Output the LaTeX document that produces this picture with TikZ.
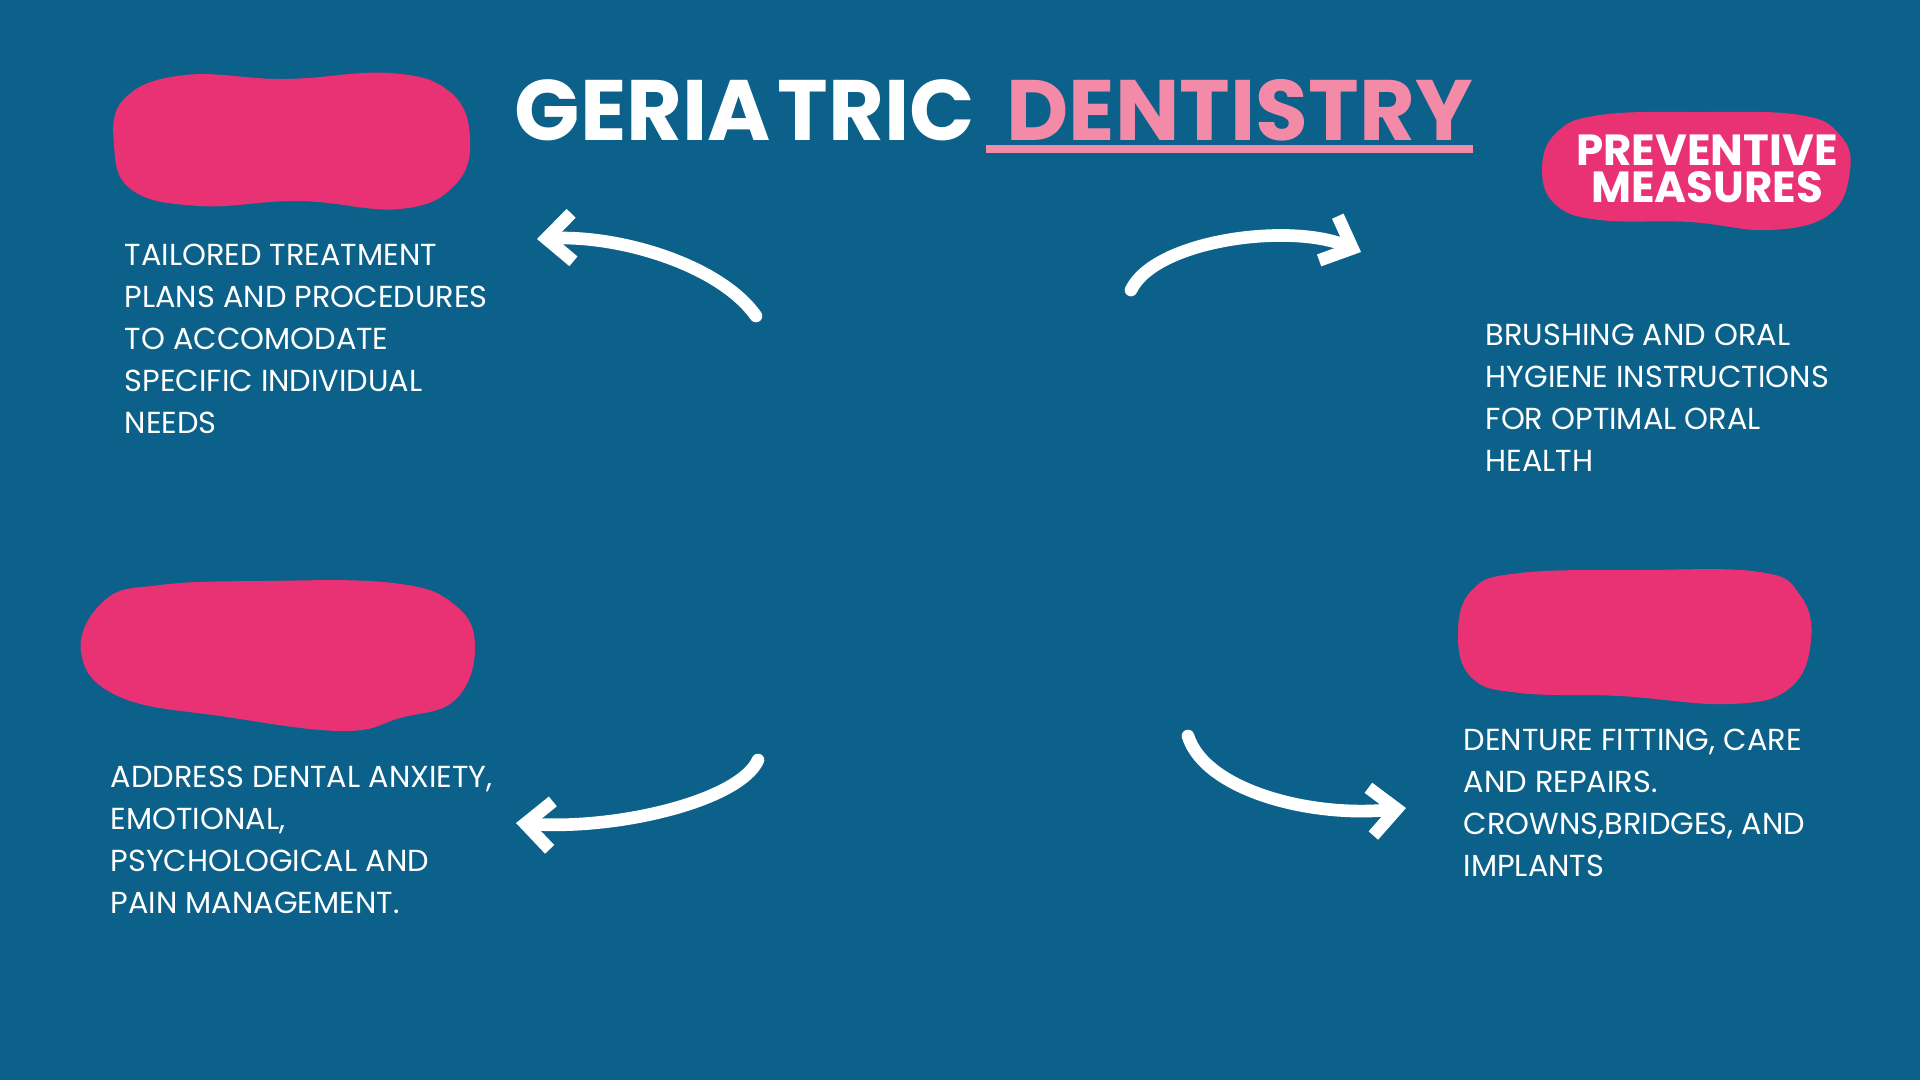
\documentclass[tikz,border=0pt]{standalone}
\usepackage{fontspec}
\setmainfont{Poppins}
\usetikzlibrary{positioning,arrows.meta}
\definecolor{sfondo}{HTML}{0B6189}
\definecolor{macchia}{HTML}{E83273}
\definecolor{rosa}{HTML}{F38BA8}
\tikzset{
  testo/.style={text=white, anchor=base west, align=left, inner sep=0pt,
    font=\fontsize{8.65}{11.9}\selectfont},
  titolo/.style={anchor=base west, inner sep=0pt,
    font=\fontsize{24.4}{30}\selectfont\bfseries},
  freccia/.style={draw=white, line width=3.6pt, line cap=round,
    -{Straight Barb[length=2.6mm,width=4.8mm]}}
}
\begin{document}
\begin{tikzpicture}[x=0.1mm, y=-0.1mm]
  % Sfondo
  \fill[sfondo] (0,0) rectangle (1920,1080);
  \useasboundingbox (0,0) rectangle (1920,1080);

  % Macchie
  \fill[macchia] plot[smooth cycle, tension=0.7] coordinates {(125,98) (185,75) (285,79) (390,73) (450,92) (470,138) (455,185) (400,209) (300,201) (200,206) (132,190) (114,145)};
  \fill[macchia] plot[smooth cycle, tension=0.7] coordinates {(105,600) (160,585) (260,581) (393,583) (455,605) (475,648) (455,700) (400,718) (343,731) (227,717) (120,697) (81,652)};
  \fill[macchia] plot[smooth cycle, tension=0.7] coordinates {(1472,590) (1520,573) (1640,570) (1760,572) (1800,595) (1811,640) (1790,688) (1730,704) (1620,696) (1520,693) (1472,678) (1458,635)};
  \fill[macchia] plot[smooth cycle, tension=0.7] coordinates {(1556,133) (1600,115) (1700,112) (1800,115) (1840,135) (1850,170) (1830,214) (1770,230) (1690,222) (1600,220) (1556,205) (1542,170)};

  % Nodi
  \node[titolo, text=white] (0) at (514,140) {GERIA\kern2pt TRIC};
  \node[titolo, text=rosa, base right=3mm of 0] (1) {DENTISTRY};
  \node[inner sep=0pt, anchor=base, align=center, text=white,
    font=\fontsize{12.4}{10.5}\selectfont\bfseries] (2) at (1707,202) {PREVENTIVE\\MEASURES};
  \node[testo] (3) at (124,433) {TAILORED TREATMENT\\PLANS AND PROCEDURES\\TO ACCOMODATE\\SPECIFIC INDIVIDUAL\\NEEDS};
  \node[testo] (4) at (1485,471) {BRUSHING AND ORAL\\HYGIENE INSTRUCTIONS\\FOR OPTIMAL ORAL\\HEALTH};
  \node[testo] (5) at (110,913) {ADDRESS DENTAL ANXIETY,\\EMOTIONAL,\\PSYCHOLOGICAL AND\\PAIN MANAGEMENT.};
  \node[testo] (6) at (1463,876) {DENTURE FITTING, CARE\\AND REPAIRS.\\CROWNS,BRIDGES, AND\\IMPLANTS};

  % Estremi delle frecce
  \coordinate (a1) at (756,316);  \coordinate (b1) at (537,239);
  \coordinate (a2) at (1131,290); \coordinate (b2) at (1361,252);
  \coordinate (a3) at (758,760);  \coordinate (b3) at (516,823);
  \coordinate (a4) at (1188,736); \coordinate (b4) at (1406,808);

  % Archi
  \draw[rosa, line width=2.2pt] (1.base west) ++(-20,9) coordinate (u1) -- (u1 -| 1.base east);
  \draw[freccia] (a1) .. controls (720,265) and (620,235) .. (b1);
  \draw[freccia] (a2) .. controls (1155,240) and (1290,222) .. (b2);
  \draw[freccia] (a3) .. controls (740,800) and (620,830) .. (b3);
  \draw[freccia] (a4) .. controls (1205,790) and (1310,818) .. (b4);
\end{tikzpicture}
\end{document}
